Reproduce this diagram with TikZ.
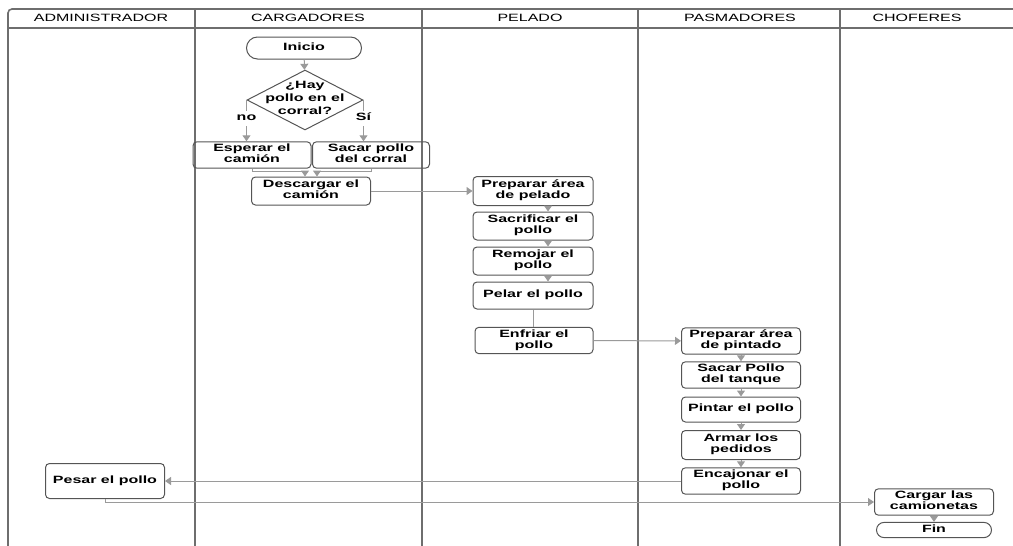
\documentclass[tikz,border=0pt]{standalone}
\usepackage{fontspec}
\setmainfont{Liberation Sans}
\usepackage{graphicx}
\usetikzlibrary{arrows.meta,shapes.misc,shapes.geometric}

\definecolor{borde}{HTML}{555555}
\definecolor{conector}{HTML}{9A9A9A}
\definecolor{carril}{HTML}{6E6E6E}

% texto achatado como en el original
\newcommand{\sqz}[1]{\scalebox{1}[0.66]{\begin{tabular}{@{}c@{}}#1\end{tabular}}}

\tikzset{
  caja/.style={draw=borde, line width=0.5pt, rounded corners=2pt,
    minimum width=59.5pt, minimum height=13pt, inner sep=1pt,
    font=\bfseries\fontsize{8}{8.5}\selectfont},
  terminal/.style={draw=borde, line width=0.5pt, rounded rectangle,
    minimum width=59.5pt, inner sep=1pt,
    font=\bfseries\fontsize{8}{8.5}\selectfont},
  decision/.style={draw=borde, line width=0.5pt, diamond, inner sep=0pt,
    minimum width=58pt, minimum height=30pt},
  flujo/.style={draw=conector, line width=0.5pt,
    -{Triangle[width=4pt,length=3pt]}},
  liso/.style={draw=conector, line width=0.5pt},
  etiqueta/.style={fill=white, inner sep=1pt,
    font=\bfseries\fontsize{8}{8.5}\selectfont},
  cabecera/.style={inner sep=0pt, font=\fontsize{8}{9}\selectfont},
  linea carril/.style={draw=carril, line width=0.8pt}
}

\begin{document}
\begin{tikzpicture}[x=0.5pt, y=-0.5pt]
\useasboundingbox (0,0) rectangle (1013,546);

% Carriles
\draw[linea carril, rounded corners=2pt] (8,546) -- (8,9) -- (1013,9);
\draw[linea carril] (8,28) -- (1013,28);
\foreach \x in {195,422,638,840}
  \draw[linea carril] (\x,9) -- (\x,546);

% Cabeceras
\node[cabecera] (hadm) at (101,19) {\sqz{ADMINISTRADOR}};
\node[cabecera] (hcar) at (308,19) {\sqz{CARGADORES}};
\node[cabecera] (hpel) at (530,19) {\sqz{PELADO}};
\node[cabecera] (hpas) at (740,19) {\sqz{PASMADORES}};
\node[cabecera] (hcho) at (917,19) {\sqz{CHOFERES}};

% Cargadores
\node[terminal, minimum height=11pt] (ini) at (304,48) {\sqz{Inicio}};
\node[decision, label={[yshift=0.5pt, font=\bfseries\fontsize{8}{9.5}\selectfont]center:\sqz{¿Hay\\pollo en el\\corral?}}] (hay) at (305,100) {};
\node[caja, minimum width=59pt, minimum height=12.5pt] (esp) at (252,155) {\sqz{Esperar el\\camión}};
\node[caja, minimum width=58.5pt, minimum height=12.5pt] (sac) at (371,155) {\sqz{Sacar pollo\\del corral}};
\node[caja, minimum height=14pt] (desc) at (311,191) {\sqz{Descargar el\\camión}};

% Pelado
\node[caja, minimum width=60pt, minimum height=14.5pt] (prep) at (533,191) {\sqz{Preparar área\\de pelado}};
\node[caja, minimum width=60pt, minimum height=14pt] (sacr) at (533,226) {\sqz{Sacrificar el\\pollo}};
\node[caja, minimum width=60pt, minimum height=14pt] (remo) at (533,261) {\sqz{Remojar el\\pollo}};
\node[caja, minimum width=60pt, minimum height=13.5pt] (pelar) at (533,295.5) {\sqz{Pelar el pollo}};
\node[caja, minimum width=59pt, minimum height=12.5pt] (enfr) at (534,340.5) {\sqz{Enfriar el\\pollo}};

% Pasmadores
\node[caja, minimum height=12.5pt] (pint) at (741,341) {\sqz{Preparar área\\de pintado}};
\node[caja, minimum height=12.5pt] (tanq) at (741,375) {\sqz{Sacar Pollo\\del tanque}};
\node[caja, minimum height=12.5pt] (pinta) at (741,409.5) {\sqz{Pintar el pollo}};
\node[caja, minimum height=14.5pt] (armar) at (741,445) {\sqz{Armar los\\pedidos}};
\node[caja, minimum height=12.5pt] (encaj) at (741,481) {\sqz{Encajonar el\\pollo}};

% Administrador
\node[caja, minimum height=17.5pt] (pesar) at (105,481) {\sqz{Pesar el pollo}};

% Choferes
\node[caja, minimum height=13pt] (carg) at (934,502) {\sqz{Cargar las\\camionetas}};
\node[terminal, minimum height=7.5pt] (fin) at (934,530) {\sqz{Fin}};

% Conectores
\draw[flujo] (ini) -- (hay);
\draw[flujo] (hay.west) -- (hay.west |- esp.north) node[etiqueta, pos=0.45] {\sqz{no}};
\draw[flujo] (hay.east) -- (hay.east |- sac.north) node[etiqueta, pos=0.45] {\sqz{Sí}};
\draw[flujo] (esp.south) -- ++(0,3) -| ([xshift=-3pt]desc.north);
\draw[flujo] (sac.south) -- ++(0,3) -| ([xshift=3pt]desc.north);
\draw[flujo] (desc) -- (prep);
\draw[flujo] ([xshift=7.5pt]prep.south) -- ([xshift=7.5pt]sacr.north);
\draw[flujo] ([xshift=7.5pt]sacr.south) -- ([xshift=7.5pt]remo.north);
\draw[flujo] ([xshift=7.5pt]remo.south) -- ([xshift=7.5pt]pelar.north);
\draw[liso] (pelar.south) -- (pelar.south |- enfr.north);
\draw[flujo] (enfr) -- (pint);
\draw[flujo] (pint) -- (tanq);
\draw[flujo] (tanq) -- (pinta);
\draw[flujo] (pinta) -- (armar);
\draw[flujo] (armar) -- (encaj);
\draw[flujo] (encaj) -- (pesar);
\draw[flujo] (pesar.south) |- (carg.west);
\draw[flujo] (carg) -- (fin);

\end{tikzpicture}
\end{document}
